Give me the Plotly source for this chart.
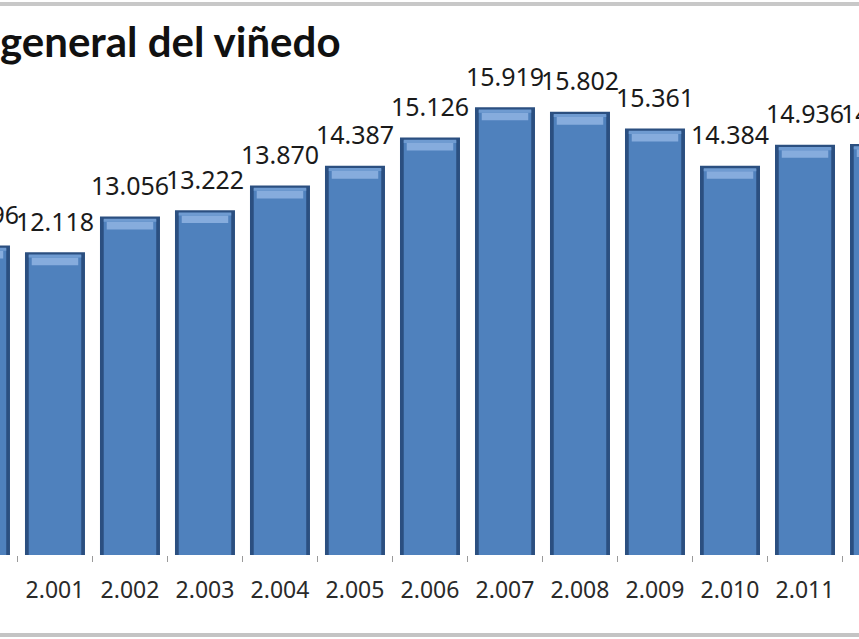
import plotly.graph_objects as go

# datos (miles de ha), eje con separador de miles "."
years = ['2.000', '2.001', '2.002', '2.003', '2.004', '2.005', '2.006',
         '2.007', '2.008', '2.009', '2.010', '2.011', '2.012']
values = [12.296, 12.118, 13.056, 13.222, 13.870, 14.387, 15.126,
          15.919, 15.802, 15.361, 14.384, 14.936, 14.956]
labels = ['12.296', '12.118', '13.056', '13.222', '13.870', '14.387', '15.126',
          '15.919', '15.802', '15.361', '14.384', '14.936', '14.956']
title_text = 'general del viñedo'

W, H = 859, 639
TOP, BOTTOM = 47, 555  # plot area in pixels
plot_h = BOTTOM - TOP


def py(pix):
    # pixel row -> paper coordinate
    return (BOTTOM - pix) / plot_h


fig = go.Figure()

# cuerpo oscuro (bordes)
fig.add_trace(go.Bar(x=years, y=values, width=0.8,
                     marker=dict(color='#2B4F80', line=dict(width=0)),
                     hoverinfo='skip'))
# cara principal
fig.add_trace(go.Bar(x=years, y=[v - 0.08 for v in values], width=0.7,
                     marker=dict(color='#4F81BD', line=dict(width=0)),
                     hoverinfo='skip'))
# bisel superior
fig.add_trace(go.Bar(x=years, y=[0.2] * len(values),
                     base=[v - 0.34 for v in values], width=0.62,
                     marker=dict(color='#86ACDD', line=dict(width=0)),
                     hoverinfo='skip'))
fig.add_trace(go.Bar(x=years, y=[0.08] * len(values),
                     base=[v - 0.14 for v in values], width=0.7,
                     marker=dict(color='#6F9BD1', line=dict(width=0)),
                     hoverinfo='skip'))

# etiquetas de valor (barra invisible sobre cada columna)
fig.add_trace(go.Bar(x=years, y=[0.3] * len(values), base=values, width=0.8,
                     marker=dict(color='rgba(0,0,0,0)', line=dict(width=0)),
                     text=labels, textposition='outside', textangle=0,
                     constraintext='none', cliponaxis=True,
                     outsidetextfont=dict(family='Noto Sans', size=25, color='#1a1a1a'),
                     hoverinfo='skip'))

fig.update_layout(
    width=W, height=H, autosize=False,
    margin=dict(l=0, r=0, t=TOP, b=H - BOTTOM),
    paper_bgcolor='white', plot_bgcolor='white',
    barmode='overlay', showlegend=False,
    title=dict(text='<b>' + title_text + '</b>', x=0, xanchor='left',
               xref='paper', y=1 - 42 / H, yanchor='middle',
               font=dict(family='Lato', size=42, color='#111111')),
    xaxis=dict(type='category', range=[0.267, 11.72], tickson='boundaries',
               ticks='outside', ticklen=6, tickcolor='#9a9a9a', tickwidth=1,
               showgrid=False, showline=False, zeroline=False,
               ticklabelstandoff=19,
               tickfont=dict(family='Noto Sans', size=23, color='#2a2a2a')),
    yaxis=dict(range=[4.18, 17.5], visible=False, showgrid=False),
    shapes=[
        dict(type='line', xref='paper', yref='paper', x0=0, x1=1,
             y0=py(4), y1=py(4), line=dict(color='#c8c8c8', width=4)),
        dict(type='line', xref='paper', yref='paper', x0=0, x1=1,
             y0=py(635), y1=py(635), line=dict(color='#c4c4c4', width=4)),
    ],
)

fig.write_html('out.html', config={'displayModeBar': False},
               post_script="document.body.style.margin='0px';")
